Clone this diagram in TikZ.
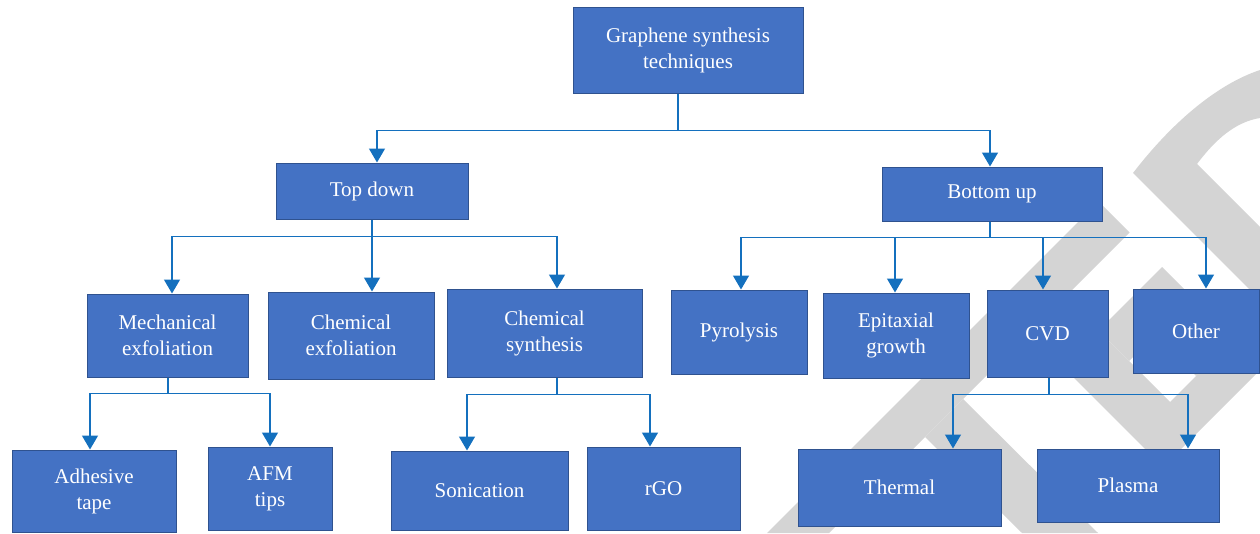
\documentclass[tikz,border=0pt]{standalone}
\usepackage{fontspec}
\setmainfont{Liberation Serif}
\usetikzlibrary{arrows.meta}
\definecolor{boxfill}{RGB}{68,114,196}
\definecolor{boxline}{RGB}{47,82,143}
\definecolor{conn}{RGB}{20,112,190}
\definecolor{wm}{RGB}{212,212,212}
\tikzset{
  box/.style={draw=boxline, fill=boxfill, line width=1pt, text=white, align=center,
    inner sep=0pt, font=\fontsize{21}{26}\selectfont},
  line/.style={draw=conn, line width=1.4pt},
  arr/.style={line, -{Triangle[width=16pt,length=14pt]}}
}
\newcommand{\bx}[6]{\node[box, minimum width=#4pt, minimum height=#5pt] (#1) at (#2,#3) {#6};}
\begin{document}
\begin{tikzpicture}[x=1pt,y=-1pt]
\useasboundingbox (0,0) rectangle (1260,533);
% watermark
\begin{scope}
\clip (0,0) rectangle (1260,533);
\fill[wm] (767,533) -- (1098.5,201.5) -- (1129.5,232.5) -- (829,533) -- cycle;
\fill[wm] (925,437) -- (963,399) -- (1098,533) -- (1022,533) -- cycle;
\fill[wm] (1029,333) -- (1065,297) -- (1170,402) -- (1260,312) -- (1260,370) -- (1163,467) -- cycle;
\fill[wm] (1098.5,330.5) -- (1162,267) -- (1240,345) -- (1196,376) -- (1155,335) -- (1129,361) -- cycle;
\fill[wm] (1260,300) -- (1133,173) .. controls (1170,125) and (1215,85) .. (1260,70)
  -- (1260,118) .. controls (1235,122) and (1215,140) .. (1197,164) -- (1260,227) -- cycle;
\end{scope}
% boxes
\bx{root}{688}{50}{230}{86}{Graphene synthesis\\techniques}
\bx{top}{372}{191}{192}{56}{Top down}
\bx{bot}{992}{194}{220}{54}{Bottom up}
\bx{mech}{167.5}{335.5}{161}{83}{Mechanical\\exfoliation}
\bx{chex}{351}{335.5}{166}{87}{Chemical\\exfoliation}
\bx{chsy}{544.5}{333}{195}{88}{Chemical\\synthesis}
\bx{adh}{94}{491}{164}{82}{Adhesive\\tape}
\bx{afm}{270}{488.5}{124}{83}{AFM\\tips}
\bx{son}{479.5}{490.5}{177}{79}{Sonication}
\bx{rgo}{663.5}{488.5}{153}{83}{rGO}
\bx{pyr}{739}{332}{136}{84}{Pyrolysis}
\bx{epi}{896}{335.5}{146}{85}{Epitaxial\\growth}
\bx{cvd}{1047.5}{333.5}{121}{87}{CVD}
\bx{oth}{1196}{331}{126}{84}{Other}
\bx{the}{899.5}{487.5}{203}{77}{Thermal}
\bx{pla}{1128}{485.5}{182}{73}{Plasma}
% connectors
\draw[line] ([xshift=-10pt]root.south) -- ++(0,37) coordinate (r0);
\draw[arr] (r0) -| ([xshift=5pt]top.north);
\draw[arr] (r0) -| ([xshift=-2pt]bot.north);
\draw[line] (top.south) -- ++(0,17) coordinate (t0);
\draw[arr] (t0) -| ([xshift=4.5pt]mech.north);
\draw[arr] (t0) -| ([xshift=21pt]chex.north);
\draw[arr] (t0) -| ([xshift=12.5pt]chsy.north);
\draw[line] ([xshift=-2pt]bot.south) -- ++(0,16) coordinate (b0);
\draw[arr] (b0) -| ([xshift=2pt]pyr.north);
\draw[arr] (b0) -| ([xshift=-1pt]epi.north);
\draw[arr] (b0) -| ([xshift=-4.5pt]cvd.north);
\draw[arr] (b0) -| ([xshift=10pt]oth.north);
\draw[line] ([xshift=0.5pt]mech.south) -- ++(0,16) coordinate (m0);
\draw[arr] (m0) -| ([xshift=-4pt]adh.north);
\draw[arr] (m0) -| (afm.north);
\draw[line] ([xshift=12.5pt]chsy.south) -- ++(0,17) coordinate (s0);
\draw[arr] (s0) -| ([xshift=-12.5pt]son.north);
\draw[arr] (s0) -| ([xshift=-13.5pt]rgo.north);
\draw[line] ([xshift=1.5pt]cvd.south) -- ++(0,17) coordinate (c0);
\draw[arr] (c0) -| ([xshift=53.5pt]the.north);
\draw[arr] (c0) -| ([xshift=60pt]pla.north);
\end{tikzpicture}
\end{document}
